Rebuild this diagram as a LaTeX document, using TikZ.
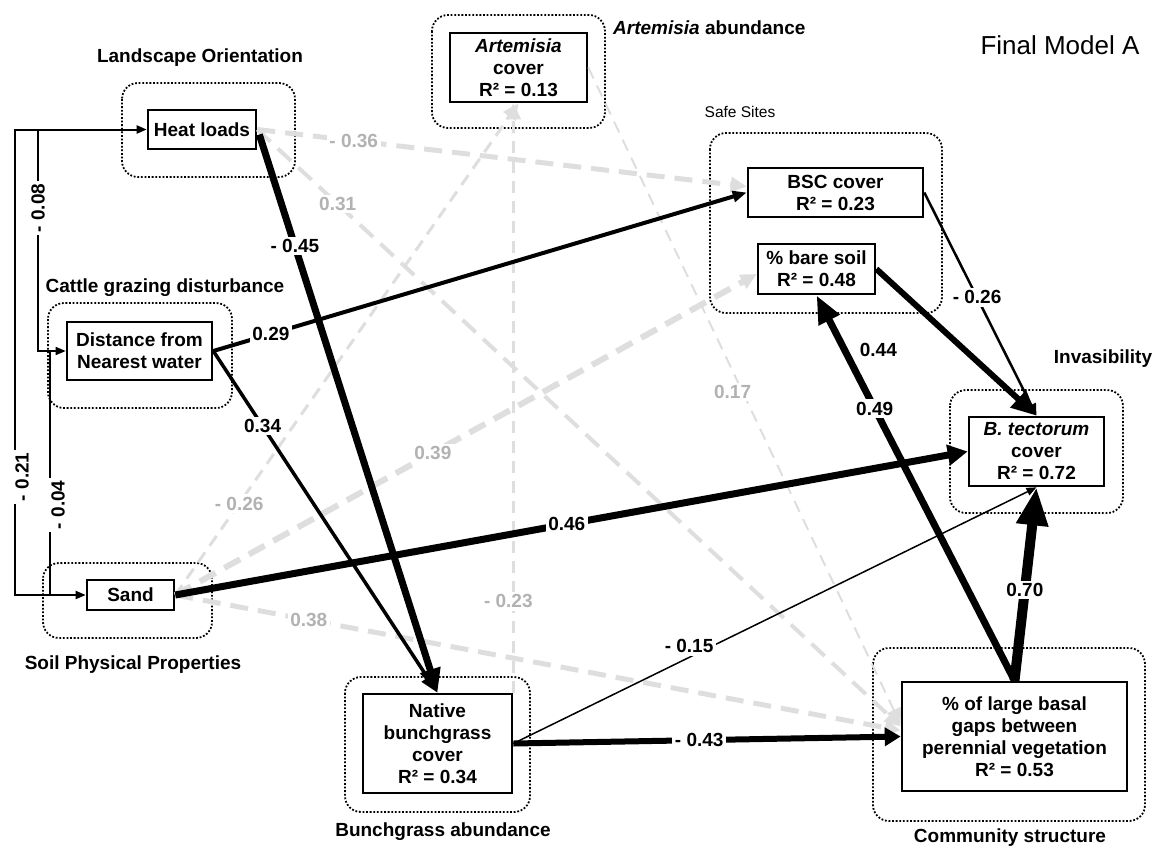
\documentclass[tikz,border=0pt]{standalone}
\usepackage{fontspec}
\setmainfont{Liberation Sans}
\usetikzlibrary{arrows.meta,calc}

\newcommand{\dgmfont}{\fontsize{19}{22}\selectfont\bfseries}

\tikzset{
  var/.style={draw, line width=2.6pt, fill=white, align=center, inner sep=0pt, font=\dgmfont},
  grp/.style={draw, line width=1.8pt, dash pattern=on 1.8pt off 1.8pt, rounded corners=16pt},
  grplbl/.style={font=\dgmfont, inner sep=0pt},
  coef/.style={fill=white, font=\dgmfont, inner sep=2.5pt},
  gcoef/.style={coef, text=black!30},
  gpath/.style={draw=black!13, dash pattern=on 18pt off 10pt},
  gthin/.style={draw=black!13, dash pattern=on 12pt off 8pt},
  gtip/.style={-{Triangle[length=16pt,width=15pt]}},
}

\begin{document}
\begin{tikzpicture}[x=1pt,y=-1pt]
\useasboundingbox (0,0) rectangle (1153,852);

% construct groups (dotted frames)
\draw[grp] (122,83) rectangle (295,177);
\draw[grp] (48,303) rectangle (232,408);
\draw[grp] (43,563) rectangle (212,638);
\draw[grp] (432,15) rectangle (605,128);
\draw[grp] (710,133) rectangle (942,313);
\draw[grp] (950,390) rectangle (1123,513);
\draw[grp] (345,677) rectangle (530,812);
\draw[grp] (873,648) rectangle (1145,821);

% group titles
\node[grplbl] (tLand) at (200,58) {Landscape Orientation};
\node[grplbl] (tCattle) at (165,288) {Cattle grazing disturbance};
\node[grplbl] (tSoil) at (133,665) {Soil Physical Properties};
\node[grplbl, anchor=west] (tArt) at (613,28) {\itshape Artemisia\upshape{} abundance};
\node[inner sep=0pt, font=\fontsize{15.5}{18}\selectfont] (tSafe) at (740,112) {Safe Sites};
\node[grplbl] (tInv) at (1103,359) {Invasibility};
\node[grplbl] (tBunch) at (443,832) {Bunchgrass abundance};
\node[grplbl] (tComm) at (1010,838) {Community structure};
\node[inner sep=0pt, font=\fontsize{26}{30}\selectfont] (title) at (1060,45) {Final Model A};

% observed variables
\node[var, minimum width=108pt, minimum height=39pt] (heat) at (202,129.5) {Heat loads};
\node[var, minimum width=145pt, minimum height=58pt] (dist) at (139.5,351) {Distance from\\Nearest water};
\node[var, minimum width=87pt, minimum height=30pt] (sand) at (130.5,595) {Sand};
\node[var, minimum width=137pt, minimum height=69pt] (art) at (518.5,67.5) {\itshape Artemisia\\cover\\R² = 0.13};
\node[var, minimum width=175pt, minimum height=49pt] (bsc) at (835.5,192.5) {BSC cover\\R² = 0.23};
\node[var, minimum width=117pt, minimum height=50pt] (bare) at (816.5,269) {\% bare soil\\R² = 0.48};
\node[var, minimum width=135pt, minimum height=69pt] (btec) at (1036.5,451.5) {\itshape B. tectorum\\cover\\R² = 0.72};
\node[var, minimum width=149pt, minimum height=99pt] (native) at (437.5,743.5) {Native\\bunchgrass\\cover\\R² = 0.34};
\node[var, minimum width=225pt, minimum height=109pt] (gaps) at (1014.5,736.5) {\% of large basal\\gaps between\\perennial vegetation\\R² = 0.53};

% non-significant paths (light grey, dashed)
\draw[gpath, line width=5pt, gtip] (heat.east) -- node[gcoef, pos=0.197] {- 0.36} ($(bsc.west)+(0,-6)$);
\draw[gpath, line width=4pt, gtip] (heat.east) -- node[gcoef, pos=0.125] {0.31} ($(gaps.west)+(0,-10)$);
\draw[gpath, line width=6pt, gtip] (sand.east) -- node[gcoef, pos=0.443] {0.39} ($(bare.west)+(0,5)$);
\draw[gthin, line width=3pt, gtip] (sand.east) -- node[gcoef, pos=0.186] {- 0.26} (art.south);
\draw[gpath, line width=5pt, gtip] (sand.east) -- node[gcoef, pos=0.184] {0.38} ($(gaps.west)+(0,-6)$);
\draw[gthin, line width=3pt, gtip] (native.north east) -- node[gcoef, pos=0.155, xshift=-5pt] {- 0.23} (native.north east |- art.south);
\draw[gthin, line width=2pt, gtip] (art.east) -- node[gcoef, pos=0.494, xshift=-10pt] {0.17} ($(gaps.west)+(0,-12)$);

% significant paths (black, width by strength)
\draw[line width=7pt, -{Triangle[length=24pt,width=20pt]}] ($(heat.east)+(2,5)$) -- node[coef, pos=0.2] {- 0.45} (native.north);
\draw[line width=3.5pt, -{Triangle[length=18pt,width=14pt]}] (dist.east) -- node[coef, pos=0.22] {0.34} (native.north);
\draw[line width=4pt, -{Triangle[length=14pt,width=11pt]}] (dist.east) -- node[coef, pos=0.108] {0.29} (bsc.west);
\draw[line width=7pt, -{Triangle[length=20pt,width=20pt]}] (sand.east) -- node[coef, pos=0.494] {0.46} (btec.west);
\draw[line width=1.5pt, -{Triangle[length=10pt,width=8pt]}] (native.east) -- node[coef, pos=0.336, yshift=11pt] {- 0.15} (btec.south);
\draw[line width=6pt, -{Triangle[length=16pt,width=18pt]}] (native.east) -- node[coef, pos=0.48] {- 0.43} (gaps.west);
\draw[line width=10pt, -{Triangle[length=38pt,width=30pt]}] (gaps.north) -- node[coef, pos=0.47] {0.70} (btec.south);
\draw[line width=7pt, -{Triangle[length=28pt,width=22pt]}] (gaps.north) -- node[coef, pos=0.706] {0.49} (bare.south);
\draw[line width=2.5pt, -{Triangle[length=12pt,width=10pt]}] (bsc.east) -- node[coef, pos=0.47] {- 0.26} (btec.north);
\draw[line width=6pt, -{Triangle[length=25pt,width=22pt]}] (bare.east) -- node[coef, pos=0.3, xshift=-46pt, yshift=-37pt] {0.44} (btec.north);

% correlations among exogenous variables
\coordinate (b1) at (15,0);
\coordinate (b2) at (38,0);
\coordinate (b3) at (50,0);
\draw[line width=2pt, {Triangle[length=10pt,width=8pt]}-{Triangle[length=10pt,width=8pt]}]
  (heat.west) -- (heat.west -| b1) -- node[coef, xshift=7pt, rotate=90, pos=0.746] {- 0.21} (sand.west -| b1) -- (sand.west);
\draw[line width=1.5pt, -{Triangle[length=10pt,width=8pt]}]
  (heat.west -| b2) -- node[coef, rotate=90, pos=0.354] {- 0.08} (dist.west -| b2) -- (dist.west);
\draw[line width=1.5pt]
  (dist.west -| b3) -- node[coef, xshift=8pt, rotate=90, pos=0.63] {- 0.04} (sand.west -| b3);
\end{tikzpicture}
\end{document}
